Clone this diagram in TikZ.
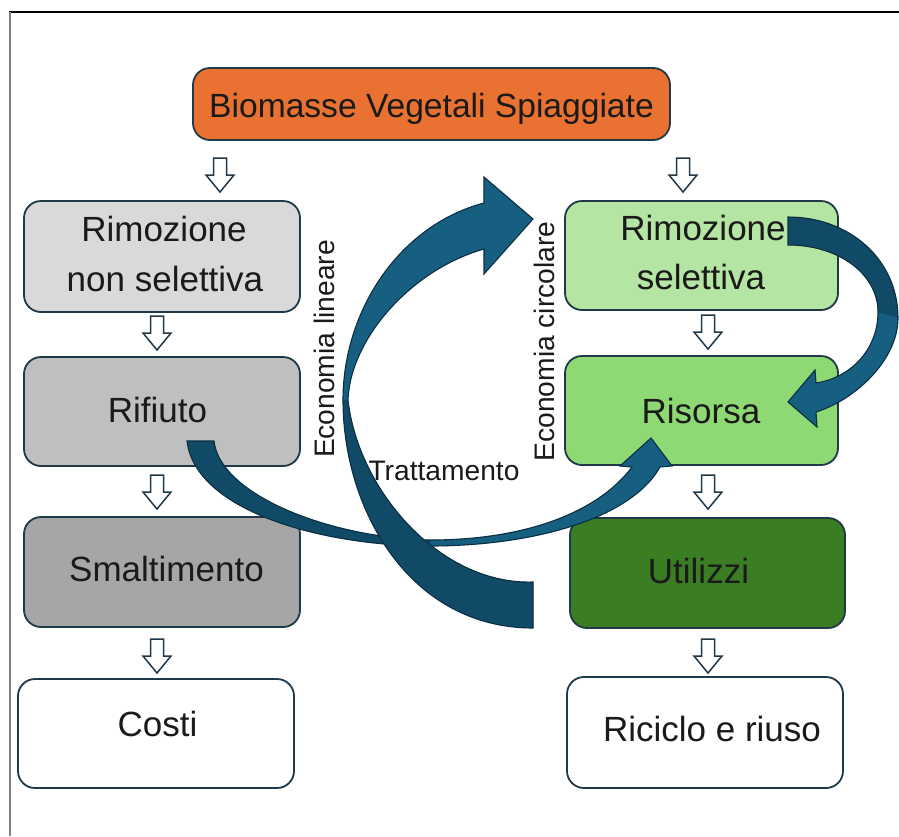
\documentclass[tikz,border=0pt]{standalone}
\usepackage{fontspec}
\setmainfont{Liberation Sans}
\usetikzlibrary{calc}
\definecolor{edge}{HTML}{203847}
\definecolor{ink}{HTML}{1A1A1A}
\definecolor{orangefill}{HTML}{E97132}
\definecolor{grayA}{HTML}{D9D9D9}
\definecolor{grayB}{HTML}{BFBFBF}
\definecolor{grayC}{HTML}{A6A6A6}
\definecolor{greenA}{HTML}{B4E5A2}
\definecolor{greenB}{HTML}{8ED973}
\definecolor{greenC}{HTML}{3B7D23}
\definecolor{arrmain}{HTML}{175F80}
\definecolor{arrdark}{HTML}{114A67}
\definecolor{arredge}{HTML}{0B2F42}
\begin{document}
\begin{tikzpicture}[x=1pt,y=-1pt,
  box/.style={draw=edge, line width=1.8pt, rounded corners=17pt, inner sep=0pt},
  lbl/.style={font=\fontsize{35}{42}\selectfont, text=ink, anchor=base, inner sep=0pt},
  sidelbl/.style={font=\fontsize{28.2}{34}\selectfont, text=ink, anchor=base, inner sep=0pt},
  bigarrow/.style={draw=arredge, line width=1.1pt, line join=miter},
  dnarrow/.pic={\draw[draw=edge, line width=1.5pt, fill=white, line join=miter]
     (-6.5,-17) -- (6.5,-17) -- (6.5,0) -- (14,0) -- (0,17) -- (-14,0) -- (-6.5,0) -- cycle;}
]
\useasboundingbox (0,0) rectangle (899,836);
\fill[white] (0,0) rectangle (899,836);
% frame
\draw[black, line width=1.4pt] (9.3,12) -- (899,12);
\draw[gray, line width=1.6pt] (10,12) -- (10,836);

% boxes
\node[box, fill=orangefill, minimum width=477pt, minimum height=72pt] (top) at (431.5,104) {};
\node[box, fill=grayA, minimum width=276pt, minimum height=111pt] (rns) at (162,256.5) {};
\node[box, fill=grayB, minimum width=276pt, minimum height=109pt] (rif) at (162,411.5) {};
\node[box, fill=grayC, minimum width=276pt, minimum height=110pt] (sma) at (162,572) {};
\node[box, fill=white, minimum width=276pt, minimum height=109pt] (cos) at (156,733.5) {};
\node[box, fill=greenA, minimum width=273pt, minimum height=109pt] (rse) at (701.5,255.5) {};
\node[box, fill=greenB, minimum width=273pt, minimum height=109pt] (ris) at (701.5,410.5) {};
\node[box, fill=greenC, minimum width=275pt, minimum height=110pt] (uti) at (707.5,573) {};
\node[box, fill=white, minimum width=276pt, minimum height=111pt] (ric) at (705,732.5) {};

% texts
\node[lbl, font=\fontsize{33.6}{40}\selectfont] (tTop) at (431.5,117) {Biomasse Vegetali Spiaggiate};
\node[lbl] (tRns1) at (164,241) {Rimozione};
\node[lbl] (tRns2) at (165,291) {non selettiva};
\node[lbl] (tRif) at (157.5,422) {Rifiuto};
\node[lbl] (tSma) at (166.5,581) {Smaltimento};
\node[lbl] (tCos) at (157.5,736) {Costi};
\node[lbl] (tRse1) at (703,240) {Rimozione};
\node[lbl] (tRse2) at (701,289) {selettiva};
\node[lbl] (tRis) at (701,423) {Risorsa};
\node[lbl] (tUti) at (698.5,583) {Utilizzi};
\node[lbl] (tRic) at (712,741) {Riciclo e riuso};

% small hollow arrows
\pic at (220,175) {dnarrow};
\pic at (683,175) {dnarrow};
\pic at (157,333) {dnarrow};
\pic at (708,332) {dnarrow};
\pic at (157,492) {dnarrow};
\pic at (708,492) {dnarrow};
\pic at (157,656) {dnarrow};
\pic at (708,656) {dnarrow};

% thin arrow Rifiuto -> Risorsa
\fill[arrmain] (187,441) .. controls (195,510) and (320,546) .. (430,546)
  .. controls (530,546) and (630,520) .. (660,467) -- (672,466) -- (651,438) -- (620,466) -- (632,467)
  .. controls (600,510) and (530,540) .. (430,540)
  .. controls (330,538) and (220,495) .. (214,441) -- cycle;
\fill[arrdark] (187,441) .. controls (195,510) and (320,546) .. (430,546) -- (430,540)
  .. controls (330,538) and (220,495) .. (214,441) -- cycle;
\draw[bigarrow] (187,441) .. controls (195,510) and (320,546) .. (430,546)
  .. controls (530,546) and (630,520) .. (660,467) -- (672,466) -- (651,438) -- (620,466) -- (632,467)
  .. controls (600,510) and (530,540) .. (430,540)
  .. controls (330,538) and (220,495) .. (214,441) -- cycle;

% big arrow
\fill[arrmain] (533,628) .. controls (410,628) and (343,510) .. (343,400)
  .. controls (343,310) and (400,225) .. (484,203)
  -- (484,177) -- (533,219) -- (484,274) -- (484,249)
  .. controls (410,270) and (350,340) .. (348,400)
  .. controls (358,490) and (440,585) .. (533,582) -- cycle;
\fill[arrdark] (533,628) .. controls (410,628) and (343,510) .. (343,400) -- (348,400)
  .. controls (358,490) and (440,585) .. (533,582) -- cycle;
\draw[bigarrow] (533,628) .. controls (410,628) and (343,510) .. (343,400)
  .. controls (343,310) and (400,225) .. (484,203)
  -- (484,177) -- (533,219) -- (484,274) -- (484,249)
  .. controls (410,270) and (350,340) .. (348,400)
  .. controls (358,490) and (440,585) .. (533,582) -- cycle;

% right arrow
\fill[arrmain] (788,217) .. controls (850,217) and (898,260) .. (898,318)
  .. controls (898,360) and (855,400) .. (816,412) -- (817,427) -- (788,402) -- (815,370) -- (816,383)
  .. controls (850,378) and (878,350) .. (878,312)
  .. controls (878,275) and (840,245) .. (788,245) -- cycle;
\fill[arrdark] (788,217) .. controls (850,217) and (898,260) .. (898,318) -- (878,312)
  .. controls (878,275) and (840,245) .. (788,245) -- cycle;
\draw[bigarrow] (788,217) .. controls (850,217) and (898,260) .. (898,318)
  .. controls (898,360) and (855,400) .. (816,412) -- (817,427) -- (788,402) -- (815,370) -- (816,383)
  .. controls (850,378) and (878,350) .. (878,312)
  .. controls (878,275) and (840,245) .. (788,245) -- cycle;

% side labels
\node[sidelbl, rotate=90] (lin) at (334,349) {Economia lineare};
\node[sidelbl, rotate=90] (cir) at (554,341.5) {Economia circolare};
\node[sidelbl] (tra) at (444,480) {Trattamento};
\end{tikzpicture}
\end{document}
